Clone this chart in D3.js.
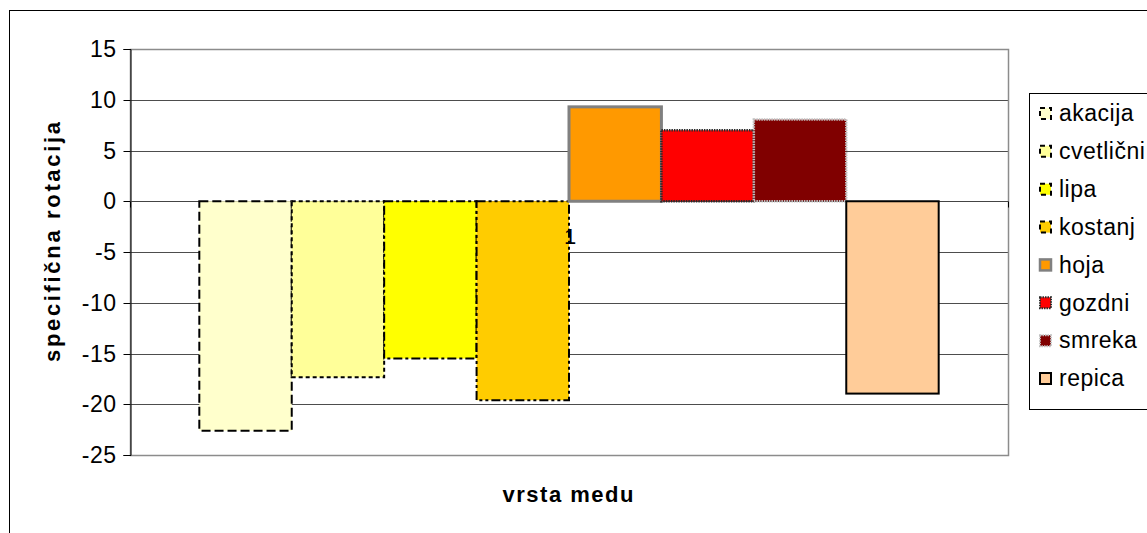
<!DOCTYPE html>
<html>
<head>
<meta charset="utf-8">
<script src="https://cdn.jsdelivr.net/npm/d3@7"></script>
<style>
  html, body { margin: 0; padding: 0; background: #fff; }
  svg { display: block; font-family: "Liberation Sans", Arial, sans-serif; }
</style>
</head>
<body>
<svg id="chart" width="1147" height="533"></svg>
<script>
// Specific rotation by honey type (single category "1", eight series)
const categories = ["1"];
const seriesNames = ["akacija", "cvetlični", "lipa", "kostanj", "hoja", "gozdni", "smreka", "repica"];
const seriesValues = [-22.6, -17.35, -15.5, -19.6, 9.3, 7.0, 8.05, -18.95];
const yTicks = [15, 10, 5, 0, -5, -10, -15, -20, -25];

// Series styling (fill, outline colour, outline width, dash pattern)
const fills   = ["#FFFFCC", "#FFFF99", "#FFFF00", "#FFCC00", "#FF9900", "#FF0000", "#800000", "#FFCC99"];
const strokes = ["#000", "#000", "#000", "#000", "#808080", "#2a2a2a", "#c0c0c0", "#000"];
const widths  = [2, 2, 2, 2, 3, 2.5, 2.5, 2];
const dashes  = ["9,4", "4,3", "9,3,3,3", "9,3,3,3,3,3", null, "1.5,1", "1.5,1", null];

const FONT = "'Liberation Sans', Arial, sans-serif";
const svg = d3.select("#chart");

// Outer chart frame
svg.append("rect")
  .attr("x", 9.5).attr("y", 10.5)
  .attr("width", 1160).attr("height", 540)
  .attr("fill", "#fff").attr("stroke", "#000").attr("stroke-width", 1);

const plot = { left: 130, right: 1008, top: 49, bottom: 455 };

const y = d3.scaleLinear().domain([-25, 15]).range([plot.bottom, plot.top]);
const x0 = d3.scaleBand().domain(categories).range([plot.left, plot.right]);

// Gap width 150%: category width = 8 bars + 1.5 bars
const barW = x0.bandwidth() / (seriesNames.length + 1.5);
const x1 = d3.scaleBand().domain(seriesNames)
  .range([barW * 0.75, barW * 0.75 + barW * seriesNames.length]);

// Horizontal gridlines
svg.append("g")
  .selectAll("line")
  .data(yTicks.filter(t => t !== 15 && t !== -25))
  .join("line")
  .attr("x1", plot.left).attr("x2", plot.right)
  .attr("y1", d => Math.round(y(d)) + 0.5).attr("y2", d => Math.round(y(d)) + 0.5)
  .attr("stroke", "#4d4d4d").attr("stroke-width", 1);

// Plot area border
svg.append("rect")
  .attr("x", plot.left + 0.5).attr("y", Math.round(y(15)) + 0.5)
  .attr("width", plot.right - plot.left).attr("height", Math.round(y(-25)) - Math.round(y(15)))
  .attr("fill", "none").attr("stroke", "#8c8c8c").attr("stroke-width", 1.5);

// Y axis with outward ticks
const yAxis = d3.axisLeft(y).tickValues(yTicks).tickSize(7).tickPadding(7)
  .tickFormat(d => String(d));
const yG = svg.append("g").attr("transform", `translate(${plot.left + 0.5},0)`).call(yAxis);
yG.attr("font-family", FONT).attr("font-size", 23);
yG.select(".domain").attr("stroke", "#000");
yG.selectAll(".tick line").attr("stroke", "#000");
yG.selectAll(".tick text").attr("fill", "#000").attr("letter-spacing", 0.5);
yG.selectAll(".tick").attr("transform", d => `translate(0,${Math.round(y(d)) + 0.5})`);

// Category axis along zero
const zeroY = Math.round(y(0)) + 0.5;
svg.append("line")
  .attr("x1", plot.left).attr("x2", plot.right)
  .attr("y1", zeroY).attr("y2", zeroY)
  .attr("stroke", "#444");
// Tick marks at both ends of the category axis
svg.append("g").selectAll("line")
  .data(x0.range())
  .join("line")
  .attr("x1", d => d + 0.5).attr("x2", d => d + 0.5)
  .attr("y1", zeroY).attr("y2", zeroY + 6)
  .attr("stroke", "#000");

// Bars
const groups = svg.append("g")
  .selectAll("g")
  .data(categories)
  .join("g")
  .attr("transform", d => `translate(${x0(d)},0)`);

groups.selectAll("rect")
  .data(() => seriesNames.map((name, i) => ({ name, value: seriesValues[i], i })))
  .join("rect")
  .attr("x", d => x1(d.name))
  .attr("width", x1.bandwidth())
  .attr("y", d => y(Math.max(0, d.value)))
  .attr("height", d => Math.abs(y(d.value) - y(0)))
  .attr("fill", d => fills[d.i])
  .attr("stroke", d => strokes[d.i])
  .attr("stroke-width", d => widths[d.i])
  .attr("stroke-dasharray", d => dashes[d.i]);

// Category label below the zero line
svg.append("g").selectAll("text")
  .data(categories)
  .join("text")
  .attr("x", d => x0(d) + x0.bandwidth() / 2 + 1)
  .attr("y", zeroY + 42)
  .attr("text-anchor", "middle")
  .attr("font-family", FONT).attr("font-size", 22)
  .text(d => d);

// Axis titles
svg.append("text")
  .attr("transform", `translate(60,${(plot.top + plot.bottom) / 2 - 10}) rotate(-90)`)
  .attr("text-anchor", "middle")
  .attr("font-family", FONT).attr("font-size", 22).attr("font-weight", "bold")
  .attr("textLength", 240).attr("lengthAdjust", "spacing")
  .text("specifična rotacija");

svg.append("text")
  .attr("x", (plot.left + plot.right) / 2 - 1).attr("y", 502)
  .attr("text-anchor", "middle")
  .attr("font-family", FONT).attr("font-size", 22).attr("font-weight", "bold")
  .attr("textLength", 131).attr("lengthAdjust", "spacing")
  .text("vrsta medu");

// Legend
const legend = svg.append("g");
legend.append("rect")
  .attr("x", 1029.5).attr("y", 93.5)
  .attr("width", 140).attr("height", 316)
  .attr("fill", "#fff").attr("stroke", "#000").attr("stroke-width", 1);

const rowY = d3.scalePoint().domain(seriesNames).range([113, 378]);
const items = legend.selectAll("g.item")
  .data(seriesNames.map((name, i) => ({ name, i })))
  .join("g").attr("class", "item")
  .attr("transform", d => `translate(0,${rowY(d.name)})`);

items.append("rect")
  .attr("x", 1040).attr("y", -5)
  .attr("width", 11).attr("height", 11)
  .attr("fill", d => fills[d.i])
  .attr("stroke", d => strokes[d.i])
  .attr("stroke-width", d => d.i === 4 ? 2.5 : 2)
  .attr("stroke-dasharray", d => dashes[d.i] ? (d.i >= 5 ? "1.5,1" : "5,4") : null);

items.append("text")
  .attr("x", 1059).attr("y", 0).attr("dy", "0.36em")
  .attr("font-family", FONT).attr("font-size", 23).attr("letter-spacing", 0.5)
  .text(d => d.name);
</script>
</body>
</html>
